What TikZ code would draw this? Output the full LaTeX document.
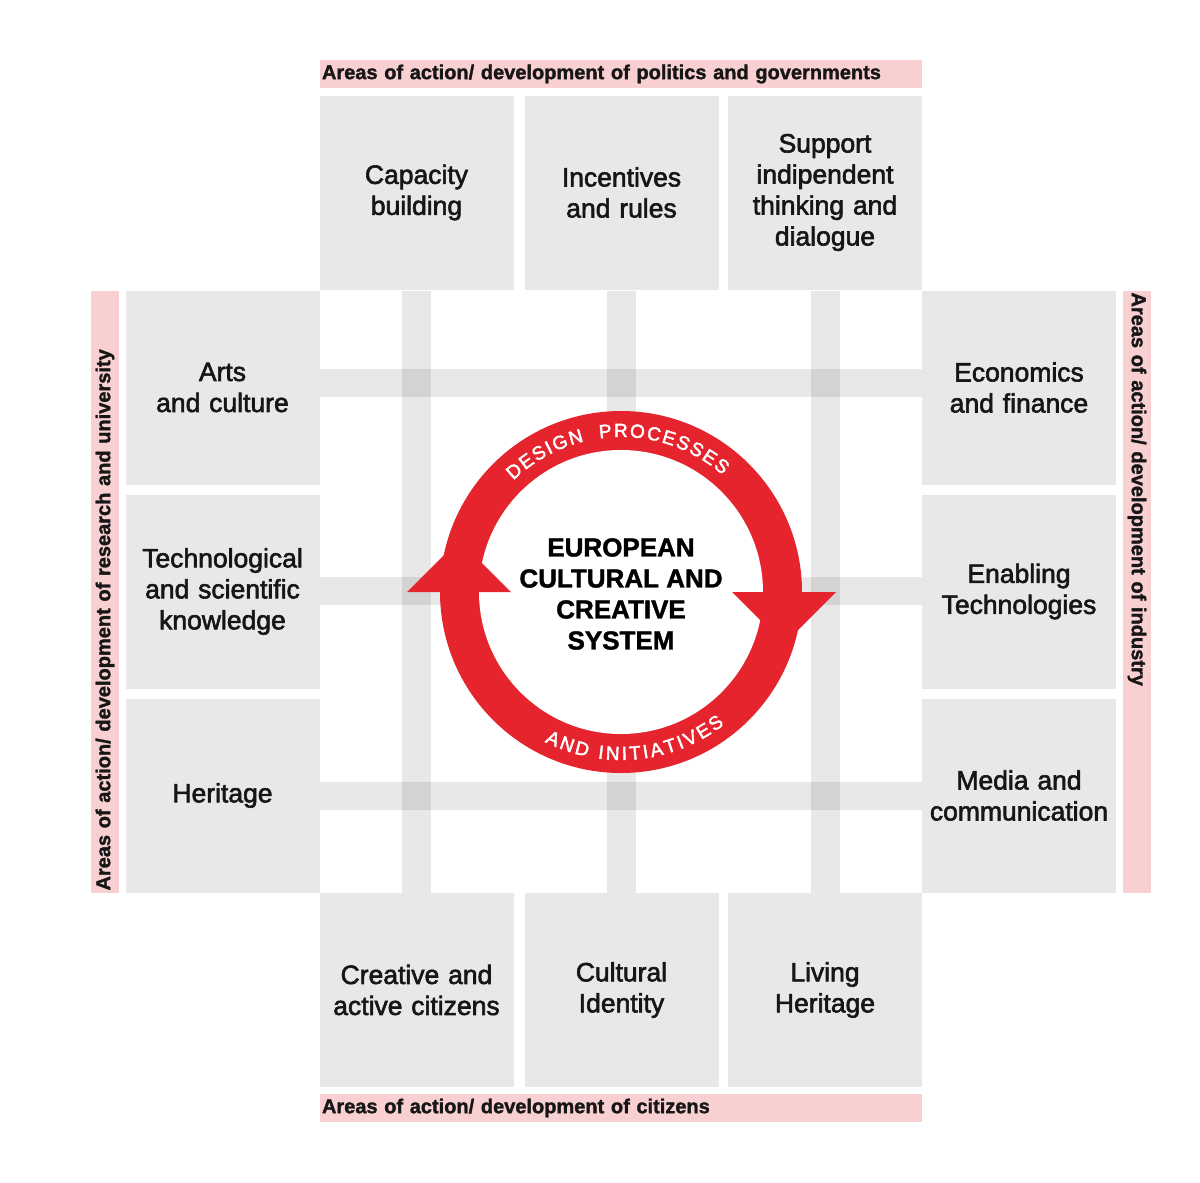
\documentclass[tikz,border=0pt]{standalone}
\usepackage{fontspec}
\setmainfont[BoldFeatures={FakeBold=1.5}]{Liberation Sans}
\newfontfamily\areafont[FakeBold=2.2]{Liberation Sans}
\usetikzlibrary{decorations.text}
\definecolor{boxgray}{RGB}{232,232,232}
\definecolor{bandpink}{RGB}{249,208,210}
\definecolor{ringred}{RGB}{229,36,45}
\definecolor{inkgray}{RGB}{22,22,22}

\begin{document}
\begin{tikzpicture}[x=1pt,y=-1pt,
    area/.style={fill=boxgray, minimum width=194pt, minimum height=194pt, text width=192pt, inner sep=0pt, align=center, text=inkgray, font=\areafont\fontsize{26.5}{31}\selectfont},
    band/.style={fill=bandpink, minimum height=28pt, text width=598pt, inner xsep=2pt, inner ysep=0pt, align=left, text=inkgray, font=\bfseries\fontsize{20}{24}\selectfont},
    strip/.style={fill=black, fill opacity=0.09}]
    \useasboundingbox (0,0) rectangle (1200,1183);

    \node[band] (politics) at (621,74) {Areas of action/ development of politics and governments};
    \node[band] (citizenship) at (621,1108) {Areas of action/ development of citizens};
    \node[band, rotate=90] (research) at (105,591.5) {Areas of action/ development of research and university};
    \node[band, rotate=-90] (industry) at (1137,591.5) {Areas of action/ development of industry};

    \node[area] (capacity) at (416.5,192.5) {Capacity\\building};
    \node[area] (incentives) at (621.5,192.5) {Incentives\\and rules};
    \node[area] (support) at (825,192.5) {Support\\indipendent\\thinking and\\dialogue};

    \node[area] (arts) at (222.5,387.5) {Arts\\and culture};
    \node[area] (knowledge) at (222.5,591.5) {Technological\\and scientific\\knowledge};
    \node[area] (heritage) at (222.5,795.5) {Heritage};

    \node[area] (economics) at (1019,387.5) {Economics\\and finance};
    \node[area] (enabling) at (1019,591.5) {Enabling\\Technologies};
    \node[area] (media) at (1019,795.5) {Media and\\communication};

    \node[area] (citizens) at (416.5,990) {Creative and\\active citizens};
    \node[area] (identity) at (621.5,990) {Cultural\\Identity};
    \node[area] (living) at (825,990) {Living\\Heritage};

    \fill[strip] (402,291) rectangle (431,893);
    \fill[strip] (607,291) rectangle (636,893);
    \fill[strip] (811,291) rectangle (840,893);
    \fill[strip] (320,369) rectangle (922,397);
    \fill[strip] (320,577) rectangle (922,605);
    \fill[strip] (320,782) rectangle (922,810);

    \coordinate (hub) at (621,592);
    \fill[ringred] (hub) circle[radius=181pt];
    \fill[white] (hub) circle[radius=142pt];
    \fill[ringred] (407,592) -- (511,592) -- (459,540) -- cycle;
    \fill[ringred] (732,592) -- (836,592) -- (784,644) -- cycle;

    \path[decorate, decoration={text along path, text color=white, text align={fit to path},
        text={|\areafont\fontsize{19}{19}\selectfont|DESIGN {\ }PROCESSES}}]
        (hub) ++(134:155pt) arc[start angle=134, end angle=49, radius=155pt];
    \path[decorate, decoration={text along path, text color=white, text align={fit to path},
        text={|\areafont\fontsize{19}{19}\selectfont|AND INITIATIVES}}]
        (hub) ++(-117:168pt) arc[start angle=-117, end angle=-52, radius=168pt];

    \node[align=center, text=black, font=\bfseries\fontsize{26}{31}\selectfont] (system) at (621,594) {EUROPEAN\\CULTURAL AND\\CREATIVE\\SYSTEM};

\end{tikzpicture}
\end{document}
